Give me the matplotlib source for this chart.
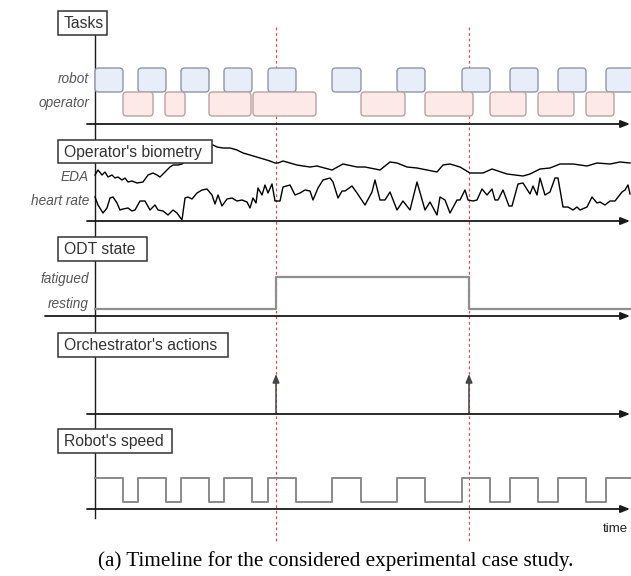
import matplotlib
matplotlib.use("Agg")
import matplotlib.pyplot as plt
from matplotlib.patches import FancyBboxPatch, Rectangle

# ---------------- data (time axis in drawing units) ----------------
robot_start = [95, 138, 181, 224, 268, 332, 397, 462, 510, 558, 606]
robot_end = [123, 166, 209, 252, 296, 361, 425, 490, 538, 586, 634]
operator_start = [123, 165, 209, 253, 361, 425, 490, 538, 586]
operator_end = [153, 185, 251, 316, 405, 473, 526, 574, 614]

eda_t = [95, 98, 102, 105, 108, 112, 115, 118, 122, 125, 128, 132, 137, 143, 148, 153, 157, 160,
         165, 170, 173, 178, 182, 190, 200, 207, 213, 217, 223, 230, 237, 243, 250, 260, 270, 275,
         278, 283, 290, 297, 303, 310, 317, 332, 343, 357, 365, 380, 390, 397, 407, 417, 437, 443,
         450, 460, 470, 483, 492, 507, 523, 530, 540, 550, 560, 573, 587, 597, 610, 620, 630]
eda_v = [46, 51, 46, 49, 44, 46, 43, 44, 41, 43, 39, 40, 38, 39, 46, 48, 46, 44,
         49, 54, 56, 56, 57, 63, 69, 74, 76, 74, 73, 73, 71, 68, 66, 63, 60, 58,
         58, 60, 58, 56, 55, 54, 55, 51, 57, 54, 54, 51, 59, 58, 54, 53, 49, 56,
         57, 54, 48, 48, 52, 47, 45, 47, 52, 53, 57, 57, 55, 58, 57, 59, 58]

hr_t = [95, 98, 103, 107, 110, 113, 117, 120, 123, 128, 132, 135, 140, 145, 150, 153, 155, 158,
        163, 168, 173, 177, 182, 185, 188, 192, 197, 202, 207, 212, 215, 218, 222, 227, 232, 237,
        242, 247, 250, 253, 256, 258, 262, 265, 268, 272, 275, 280, 283, 290, 295, 300, 305, 310,
        313, 318, 323, 330, 333, 338, 342, 345, 352, 357, 365, 372, 375, 380, 385, 390, 397, 403,
        410, 417, 425, 430, 437, 440, 445, 450, 457, 460, 465, 468, 473, 477, 482, 487, 492, 495,
        498, 503, 509, 512, 518, 523, 530, 533, 537, 540, 545, 550, 555, 558, 563, 568, 573, 577,
        580, 587, 592, 597, 600, 605, 610, 615, 622, 625, 628, 630]
hr_v = [24, 16, 8, 13, 23, 24, 18, 11, 12, 13, 10, 11, 20, 20, 11, 14, 16, 11,
        10, 6, 11, 8, 1, 23, 24, 22, 28, 31, 32, 26, 17, 26, 15, 22, 23, 20,
        21, 19, 13, 23, 18, 33, 26, 36, 28, 37, 20, 20, 34, 36, 26, 28, 31, 30,
        21, 33, 41, 43, 39, 23, 30, 30, 35, 28, 16, 29, 41, 21, 21, 29, 11, 20,
        11, 39, 11, 19, 6, 24, 21, 8, 21, 21, 31, 21, 20, 21, 32, 26, 32, 21,
        21, 31, 15, 15, 37, 38, 27, 35, 26, 43, 26, 29, 43, 43, 14, 14, 11, 14,
        11, 14, 24, 18, 19, 16, 20, 20, 29, 31, 36, 27]

odt_change_times = [95, 276, 469, 631]
odt_states = [0, 1, 0]          # 0 = resting, 1 = fatigued

action_times = [276, 469]
event_times = [276, 469]

# ---------------- figure ----------------
W, H = 631, 576
fig = plt.figure(figsize=(W / 100, H / 100), dpi=100)
ax = fig.add_axes([0, 0, 1, 1])
ax.set_xlim(0, W)
ax.set_ylim(H, 0)
ax.axis("off")

SANS = "Liberation Sans"
AXC = "#1a1a1a"
LABC = "#555555"

T0 = 95
x_end = 628


def time_axis(y, x0=87):
    ax.annotate("", xy=(x_end + 2, y), xytext=(x0, y),
                arrowprops=dict(arrowstyle="-|>,head_length=0.55,head_width=0.22",
                                color=AXC, lw=1.3, shrinkA=0, shrinkB=0), zorder=3)


def title_box(x0, y0, x1, y1, text):
    ax.add_patch(Rectangle((x0, y0), x1 - x0, y1 - y0, facecolor="white",
                           edgecolor="#333333", lw=1.1, zorder=6))
    ax.text(x0 + 6, (y0 + y1) / 2 + 0.5, text, fontsize=11.3, family=SANS, color="#333333",
            ha="left", va="center", zorder=7)


def row_label(y, text):
    ax.text(89, y, text, fontsize=9.8, family=SANS, style="italic", color=LABC,
            ha="right", va="center", zorder=7)


# main vertical axis
ax.plot([T0, T0], [35, 518], color=AXC, lw=1.0, zorder=2)

# red event lines
for t in event_times:
    ax.plot([t, t], [27, 542], color="#ff4040", lw=0.8, ls=(0, (2.5, 2.5)), zorder=1)

# ---- Tasks ----
title_box(58, 11, 107, 35, "Tasks")
row_label(79, "robot")
row_label(103, "operator")
for s, e in zip(robot_start, robot_end):
    ax.add_patch(FancyBboxPatch((s, 68), e - s, 24,
                                boxstyle="round,pad=0,rounding_size=3.5",
                                facecolor="#e7eefa", edgecolor="#8e96a6", lw=1.0, zorder=4))
for s, e in zip(operator_start, operator_end):
    ax.add_patch(FancyBboxPatch((s, 92), e - s, 24,
                                boxstyle="round,pad=0,rounding_size=3.5",
                                facecolor="#fdeae8", edgecolor="#b9a3a3", lw=1.0, zorder=4))
time_axis(124)

# ---- Operator's biometry ----
bio_axis = 221
ax.plot(eda_t, [bio_axis - v for v in eda_v], color="black", lw=1.0, zorder=3)
ax.plot(hr_t, [bio_axis - v for v in hr_v], color="black", lw=1.0, zorder=3)
title_box(58, 140, 212, 163, "Operator's biometry")
row_label(177, "EDA")
row_label(201, "heart rate")
time_axis(bio_axis)

# ---- ODT state ----
title_box(58, 237, 147, 261, "ODT state")
row_label(279, "fatigued")
row_label(304, "resting")
state_y = {0: 308.5, 1: 277}
xs, ys = [], []
for i, st in enumerate(odt_states):
    xs += [odt_change_times[i], odt_change_times[i + 1]]
    ys += [state_y[st], state_y[st]]
ax.plot(xs, ys, color="#8f8f8f", lw=1.6, zorder=3)
time_axis(316, x0=45)

# ---- Orchestrator's actions ----
title_box(58, 333, 228, 357, "Orchestrator's actions")
orch_axis = 414
for t in action_times:
    ax.annotate("", xy=(t, 374), xytext=(t, orch_axis),
                arrowprops=dict(arrowstyle="-|>,head_length=0.5,head_width=0.2",
                                color="#444444", lw=1.1, shrinkA=0, shrinkB=0), zorder=3)
time_axis(orch_axis)

# ---- Robot's speed ----
title_box(58, 429, 172, 453, "Robot's speed")
hi, lo = 478, 502
cur = T0
px, py = [], []
for s, e in zip(robot_start, robot_end):
    if s > cur:
        px += [cur, s]
        py += [lo, lo]
    px += [s, min(e, W)]
    py += [hi, hi]
    cur = e
ax.plot(px, py, color="#8a8a8a", lw=1.4, zorder=3)
time_axis(509)

ax.text(628, 529, "time", fontsize=9.5, family=SANS, color="#222222", ha="right", va="center")

# caption
ax.text(336, 561, "(a) Timeline for the considered experimental case study.",
        fontsize=15.2, family="Liberation Serif", color="black", ha="center", va="center")

fig.savefig("out.png", dpi=100)
